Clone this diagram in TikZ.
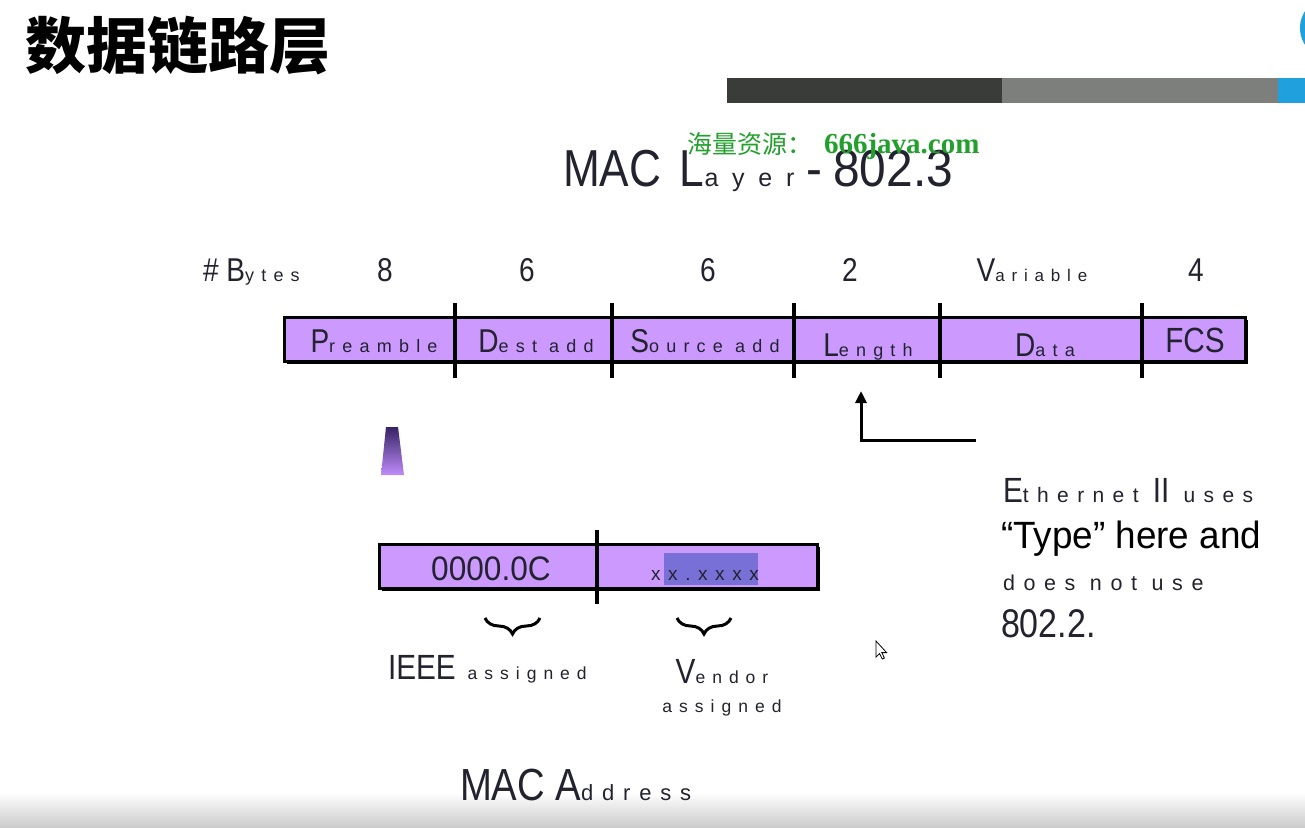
\documentclass[tikz,border=0pt]{standalone}
\usepackage{fontspec}
\usepackage{graphicx}
\setmainfont{Liberation Sans}
\newfontfamily\cjk{Noto Sans CJK SC}
\newfontfamily\wide[LetterSpace=40]{Liberation Sans}
\newfontfamily\wider[LetterSpace=55]{Liberation Sans}
\newfontfamily\wmserif{Liberation Serif}
\usetikzlibrary{decorations.pathreplacing,arrows.meta}

\definecolor{cellfill}{RGB}{204,153,255}
\definecolor{ink}{RGB}{35,35,48}
\definecolor{barDark}{RGB}{58,60,58}
\definecolor{barGray}{RGB}{125,127,125}
\definecolor{barBlue}{RGB}{33,160,222}
\definecolor{wmgreen}{RGB}{34,160,44}
\definecolor{hilite}{RGB}{120,112,214}
\definecolor{trapTop}{RGB}{55,35,100}
\definecolor{trapBot}{RGB}{190,140,250}

% narrow the wide sans a little
\newcommand\nar[2][0.85]{\scalebox{#1}[1]{#2}}
% large (narrowed) initial followed by small, letter-spaced rest
\newcommand\bigsmall[4]{\nar{\fontsize{#1}{#1}\selectfont #3}{\wide\fontsize{#2}{#2}\selectfont #4}}
\newcommand\spaced[2]{{\wide\fontsize{#1}{#1}\selectfont #2}}

\tikzset{
  lbl/.style={inner sep=0pt, outer sep=0pt, text=ink, anchor=base},
  frame/.style={fill=cellfill, draw=black, line width=3pt},
  shadowbox/.style={fill=black},
  divider/.style={line width=4pt, draw=black},
}

\begin{document}
\begin{tikzpicture}[x=1pt,y=-1pt]
\useasboundingbox (0,0) rectangle (1305,827);
\clip (0,0) rectangle (1305,827);
\fill[white] (0,0) rectangle (1305,827);
\shade[top color=white, bottom color=black!20] (0,792) rectangle (1305,827);

% heading
\node[lbl, anchor=base west, text=black] (title) at (25,68)
  {\cjk\bfseries\fontsize{61}{61}\selectfont 数据链路层};

% header bar and corner badge
\fill[barDark] (727,78) rectangle (1002,103);
\fill[barGray] (1002,78) rectangle (1278,103);
\fill[barBlue] (1278,78) rectangle (1305,103);
\fill[barBlue] (1331,28) circle (31);

% frame title
\node[lbl, anchor=base west] (frametitle) at (563,186)
  {\nar{\fontsize{52}{52}\selectfont MAC\hspace{22pt}L}{\wider\fontsize{25}{25}\selectfont ayer}\hspace{12pt}\nar[0.92]{\fontsize{52}{52}\selectfont -\hspace{12pt}802.3}};

% watermark
\node[lbl, anchor=base west, text=wmgreen] (wm) at (687,153)
  {\fontsize{25}{25}\selectfont{\cjk 海量资源：}\hspace{12pt}{\wmserif\bfseries\fontsize{29}{29}\selectfont 666java.com}};

% byte counts
\node[lbl, anchor=base west] (bytes) at (203,281) {\bigsmall{33}{18}{\# B}{ytes}};
\foreach \n/\x/\t in {b1/385/8, b2/527/6, b3/708/6, b4/850/2, b6/1196/4}
  \node[lbl] (\n) at (\x,281) {\nar{\fontsize{33}{33}\selectfont \t}};
\node[lbl] (b5) at (1032,281) {\bigsmall{33}{17}{V}{ariable}};

% frame body
\fill[shadowbox] (287,320) rectangle (1248,364);
\path[frame] (284,317) rectangle (1245,361);
\foreach \x in {455,612,794,940,1142}
  \draw[divider] (\x,303) -- (\x,378);

\node[lbl] (pre) at (374,352) {\bigsmall{33}{18}{P}{reamble}};
\node[lbl] (dst) at (536,352) {\bigsmall{33}{18}{D}{est add}};
\node[lbl] (src) at (705,352) {\bigsmall{33}{18}{S}{ource add}};
\node[lbl] (len) at (868,356) {\bigsmall{33}{18}{L}{ength}};
\node[lbl] (dat) at (1045,356) {\bigsmall{33}{18}{D}{ata}};
\node[lbl] (fcs) at (1195,352) {\nar{\fontsize{35}{35}\selectfont FCS}};

% pointer to the length field
\coordinate (lenfoot) at (861,391);
\coordinate (bend) at (861,440);
\coordinate (tail) at (976,440);
\draw[line width=3pt, -{Triangle[length=12pt,width=11pt]}] (tail) -- (bend) -- (lenfoot);

% small wedge below the preamble
\shade[top color=trapTop, bottom color=trapBot] (386,427) -- (398,427) -- (404,475) -- (381,475) -- cycle;

% note on Ethernet II
\node[lbl, anchor=base west] (n1) at (1003,502) {\bigsmall{35}{21}{E}{thernet }\bigsmall{35}{21}{II}{ uses}};
\node[lbl, anchor=base west, text=black] (n2) at (1001,548) {\nar[0.97]{\fontsize{38}{38}\selectfont “Type” here and}};
\node[lbl, anchor=base west] (n3) at (1003,590) {\spaced{21.5}{does not use}};
\node[lbl, anchor=base west] (n4) at (1001,637) {\nar{\fontsize{40}{40}\selectfont 802.2.}};

% MAC address box
\fill[shadowbox] (382,547) rectangle (820,591);
\path[frame] (379,544) rectangle (817,588);
\fill[hilite] (664,553) rectangle (758,585);
\draw[divider] (597,530) -- (597,604);
\node[lbl] (oui) at (491,580) {\nar[0.93]{\fontsize{34}{34}\selectfont 0000.0C}};
\node[lbl] (nic) at (705,580) {\spaced{19}{xx.xxxx}};

% braces and their captions
\draw[line width=3pt, decorate, decoration={brace, amplitude=16pt}] (540,618) -- (485,618);
\draw[line width=3pt, decorate, decoration={brace, amplitude=16pt}] (731,618) -- (677,618);
\node[lbl, anchor=base west] (ieee) at (388,679) {\bigsmall{35}{17.5}{IEEE}{ assigned}};
\node[lbl] (vend) at (722,683) {\bigsmall{35}{17.5}{V}{endor}};
\node[lbl] (vend2) at (722,712) {\spaced{17.5}{assigned}};

\node[lbl, anchor=base west] (macaddr) at (460,800) {\bigsmall{45}{22}{MAC A}{ddress}};

% mouse pointer
\filldraw[fill=white, draw=black, line width=0.8pt]
  (876,641) -- (876,657) -- (879.6,653.6) -- (882.2,659) -- (884.4,658) -- (881.8,652.6) -- (886.6,652.6) -- cycle;
\end{tikzpicture}
\end{document}
